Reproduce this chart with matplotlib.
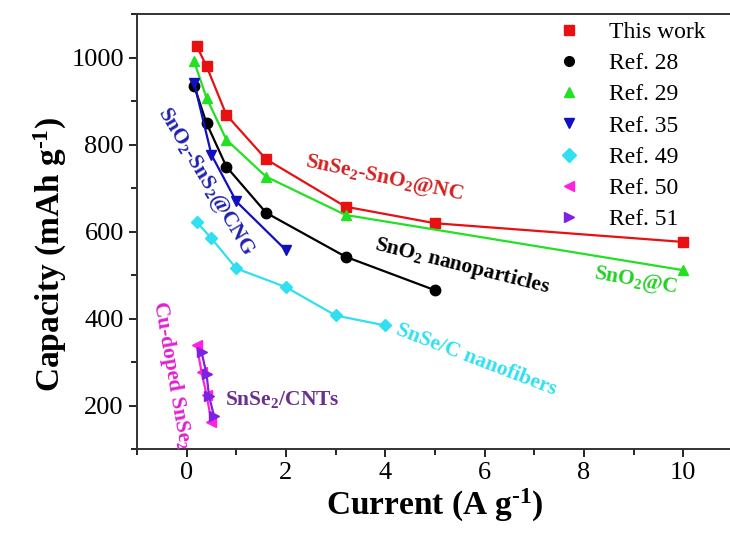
import matplotlib
matplotlib.use("Agg")
import matplotlib.pyplot as plt
from matplotlib.lines import Line2D

plt.rcParams["font.family"] = ["Liberation Serif", "DejaVu Serif"]
plt.rcParams["mathtext.fontset"] = "custom"
plt.rcParams["mathtext.rm"] = "Liberation Serif"
plt.rcParams["mathtext.bf"] = "Liberation Serif:bold"
plt.rcParams["mathtext.default"] = "bf"

# data
this_x = [0.2, 0.4, 0.8, 1.6, 3.2, 5.0, 10.0]
this_y = [1027, 980, 868, 766, 657, 619, 576]

ref28_x = [0.15, 0.4, 0.8, 1.6, 3.2, 5.0]
ref28_y = [935, 849, 749, 643, 542, 465]

ref29_x = [0.15, 0.4, 0.8, 1.6, 3.2, 10.0]
ref29_y = [991, 907, 811, 726, 638, 511]

ref35_x = [0.15, 0.5, 1.0, 2.0]
ref35_y = [942, 776, 669, 557]

ref49_x = [0.2, 0.5, 1.0, 2.0, 3.0, 4.0]
ref49_y = [622, 584, 515, 472, 407, 384]

ref50_x = [0.2, 0.3, 0.4, 0.5]
ref50_y = [340, 277, 225, 162]

ref51_x = [0.3, 0.4, 0.45, 0.55]
ref51_y = [323, 272, 222, 176]

series = [
    ("This work", this_x, this_y, "#e81010", "s"),
    ("Ref. 28", ref28_x, ref28_y, "black", "o"),
    ("Ref. 29", ref29_x, ref29_y, "#22e022", "^"),
    ("Ref. 35", ref35_x, ref35_y, "#1010c0", "v"),
    ("Ref. 49", ref49_x, ref49_y, "#30e0f0", "D"),
    ("Ref. 50", ref50_x, ref50_y, "#ff20e0", "<"),
    ("Ref. 51", ref51_x, ref51_y, "#8020e0", ">"),
]

fig = plt.figure(figsize=(7.3, 5.42), dpi=100)
ax = fig.add_axes([137 / 730, 93 / 542, 1 - 137 / 730, 435 / 542])

handles = []
for name, xs, ys, col, mk in series:
    ms = 6.5 if mk == "D" else 7.5
    ax.plot(xs, ys, color=col, lw=1.6, marker=mk, ms=ms)
    handles.append(Line2D([], [], ls="none", marker=mk, color=col, ms=7))

ax.set_xlim(-1, 10.94)
ax.set_ylim(100, 1100)
ax.set_xticks([0, 2, 4, 6, 8, 10])
ax.set_xticks(range(-1, 11), minor=True)
ax.set_yticks([200, 400, 600, 800, 1000])
ax.set_yticks(range(100, 1101, 100), minor=True)
ax.tick_params(which="both", direction="out", labelsize=19, width=1.2)
ax.tick_params(which="major", length=6)
ax.tick_params(which="minor", length=4)
ax.spines["right"].set_visible(False)
for s in ["top", "left", "bottom"]:
    ax.spines[s].set_linewidth(1.4)
    ax.spines[s].set_color("#333333")

fig.text(435 / 730, 1 - 505 / 542, "Current (A g$^{\u20101}$)", fontsize=24,
         fontweight="bold", ha="center", va="center")
fig.text(50 / 730, 1 - 254 / 542, "Capacity (mAh g$^{\u20101}$)", fontsize=24,
         fontweight="bold", ha="center", va="center", rotation=90)

ax.legend(handles, [s[0] for s in series], loc="upper left",
          bbox_to_anchor=(548 / 730, 1 - 12 / 542), bbox_transform=fig.transFigure,
          frameon=False, fontsize=17, handlelength=1.0, handletextpad=1.2,
          labelspacing=0.41, borderaxespad=0)

labels = [
    ("SnSe$_2$-SnO$_2$@NC", 384, 178, -12, "#d42020"),
    ("SnO$_2$ nanoparticles", 462, 266, -14, "black"),
    ("SnO$_2$@C", 636, 281, -10, "#22d022"),
    ("SnSe/C nanofibers", 476, 360, -21, "#30e0f0"),
    ("SnO$_2$-SnS$_2$@CNG", 205, 182, -59, "#2020b0"),
    ("Cu-doped SnSe$_2$", 172, 375, -80, "#e020d0"),
    ("SnSe$_2$/CNTs", 282, 400, 0, "#6a3090"),
]
for txt, px, py, rot, col in labels:
    fig.text(px / 730, 1 - py / 542, txt, fontsize=15.5, fontweight="bold",
             color=col, rotation=rot, ha="center", va="center",
             rotation_mode="anchor")

fig.savefig("out.png", dpi=100)
